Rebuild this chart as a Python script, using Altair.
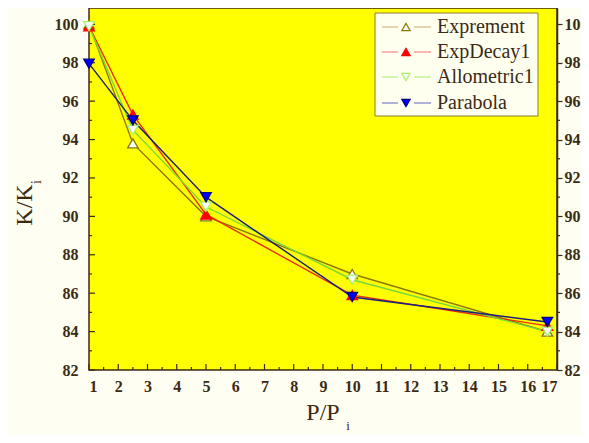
import altair as alt
import pandas as pd

# ---- data ----
x_vals = [1, 2.5, 5, 10, 16.67]
exprement = [100.0, 93.8, 90.0, 87.0, 84.0]
expdecay1 = [99.9, 95.3, 90.1, 85.9, 84.3]
allometric1 = [99.9, 94.5, 90.5, 86.7, 84.0]
parabola = [97.95, 95.0, 91.0, 85.8, 84.5]

series_names = ["Exprement", "ExpDecay1", "Allometric1", "Parabola"]
series_values = [exprement, expdecay1, allometric1, parabola]

y_major = [82, 84, 86, 88, 90, 92, 94, 96, 98, 100]
y_minor = [83, 85, 87, 89, 91, 93, 95, 97, 99]
x_major = list(range(1, 18))
x_minor = [1.5, 2.5, 3.5, 4.5, 5.5, 6.5, 7.5, 8.5, 9.5, 10.5, 11.5, 12.5, 13.5, 14.5, 15.5, 16.5]

# ---- styles ----
line_colors = ["#8c7800", "#e8300a", "#7ad83a", "#1c1c7a"]
marker_fill = ["#ffffff", "#ff0000", "#ffffff", "#0000ff"]
marker_stroke = ["#8c7800", "#ff0000", "#a8f070", "#000080"]
legend_line = ["#c8aa70", "#f07070", "#a8f070", "#6060c0"]
shapes = ["triangle-up", "triangle-up", "triangle-down", "triangle-down"]

W, H = 468, 362
FONT = "Liberation Serif"
TXT = "#3b2a14"

xscale = alt.Scale(domain=[1, 17], nice=False, zero=False)
yscale = alt.Scale(domain=[82, 100.85], nice=False, zero=False)

rows = []
for name, vals in zip(series_names, series_values):
    for xv, yv in zip(x_vals, vals):
        rows.append({"series": name, "x": xv, "y": yv})
df = pd.DataFrame(rows)

one = pd.DataFrame({"a": [0]})

layers = []

label_style = dict(labelFont=FONT, labelFontSize=16, labelFontWeight="bold", labelColor=TXT,
                   labelOverlap=False)

left_axis = alt.Chart(df).mark_point(opacity=0).encode(
    x=alt.X("x:Q", scale=xscale, axis=alt.Axis(
        orient="bottom", values=x_major, format="d", ticks=False, domain=False, grid=False,
        labelPadding=8, title=None, **label_style)),
    y=alt.Y("y:Q", scale=yscale, axis=alt.Axis(
        orient="left", values=y_major, format="d", ticks=False, domain=False, grid=False,
        labelPadding=11, title=None, **label_style)),
)
right_axis = alt.Chart(df).mark_point(opacity=0).encode(
    x=alt.X("x:Q", scale=xscale, axis=None),
    y=alt.Y("y:Q", scale=yscale, axis=alt.Axis(
        orient="right", values=y_major, format="d", ticks=True, tickSize=5,
        tickColor=TXT, tickWidth=1.2, domain=True, domainColor=TXT, domainWidth=1.5,
        grid=False, labelPadding=2, title=None, **label_style)),
)
layers += [left_axis, right_axis]

# inward / minor ticks
ymaj = pd.DataFrame({"v": y_major})
ymin = pd.DataFrame({"v": y_minor})
xmaj = pd.DataFrame({"v": x_major})
xmin = pd.DataFrame({"v": x_minor})
tick_style = dict(color=TXT, strokeWidth=1.2)
layers.append(alt.Chart(ymaj).mark_rule(**tick_style).encode(
    y=alt.Y("v:Q", scale=yscale, axis=None), x=alt.value(0), x2=alt.value(6)))
layers.append(alt.Chart(ymin).mark_rule(**tick_style).encode(
    y=alt.Y("v:Q", scale=yscale, axis=None), x=alt.value(0), x2=alt.value(3)))
layers.append(alt.Chart(ymin).mark_rule(**tick_style).encode(
    y=alt.Y("v:Q", scale=yscale, axis=None), x=alt.value(W), x2=alt.value(W + 3)))
layers.append(alt.Chart(xmaj).mark_rule(**tick_style).encode(
    x=alt.X("v:Q", scale=xscale, axis=None), y=alt.value(H), y2=alt.value(H - 6)))
layers.append(alt.Chart(xmin).mark_rule(**tick_style).encode(
    x=alt.X("v:Q", scale=xscale, axis=None), y=alt.value(H), y2=alt.value(H - 3)))

# series lines and markers
for i, name in enumerate(series_names):
    base = alt.Chart(df).transform_filter(alt.datum.series == name)
    layers.append(base.mark_line(color=line_colors[i], strokeWidth=1.4).encode(
        x=alt.X("x:Q", scale=xscale, axis=None),
        y=alt.Y("y:Q", scale=yscale, axis=None)))
for i, name in enumerate(series_names):
    base = alt.Chart(df).transform_filter(alt.datum.series == name)
    layers.append(base.mark_point(shape=shapes[i], filled=True, fill=marker_fill[i],
                                  stroke=marker_stroke[i], strokeWidth=1.3, size=110,
                                  opacity=1).encode(
        x=alt.X("x:Q", scale=xscale, axis=None),
        y=alt.Y("y:Q", scale=yscale, axis=None)))

# legend
layers.append(alt.Chart(one).mark_rect(fill="#fffff0", stroke="#8c7a30", strokeWidth=1).encode(
    x=alt.value(286), x2=alt.value(449), y=alt.value(5), y2=alt.value(108)))
row_y = [19, 44, 69, 95]
for i, name in enumerate(series_names):
    ry = row_y[i]
    layers.append(alt.Chart(one).mark_rule(color=legend_line[i], strokeWidth=1).encode(
        x=alt.value(293), x2=alt.value(309), y=alt.value(ry)))
    layers.append(alt.Chart(one).mark_rule(color=legend_line[i], strokeWidth=1).encode(
        x=alt.value(325), x2=alt.value(342), y=alt.value(ry)))
    layers.append(alt.Chart(one).mark_point(shape=shapes[i], filled=True, fill=marker_fill[i],
                                            stroke=marker_stroke[i], strokeWidth=1.2, size=70,
                                            opacity=1).encode(
        x=alt.value(317), y=alt.value(ry)))
    layers.append(alt.Chart(one).mark_text(text=name, font=FONT, fontSize=20, color=TXT,
                                           align="left", baseline="middle").encode(
        x=alt.value(348), y=alt.value(ry)))

# axis titles
layers.append(alt.Chart(one).mark_text(text="K/K", font=FONT, fontSize=24, color=TXT,
                                       angle=270, align="center", baseline="middle").encode(
    x=alt.value(-64), y=alt.value(197)))
layers.append(alt.Chart(one).mark_text(text="i", font=FONT, fontSize=14, color=TXT,
                                       angle=270, align="center", baseline="middle").encode(
    x=alt.value(-52), y=alt.value(174)))
layers.append(alt.Chart(one).mark_text(text="P/P", font=FONT, fontSize=24, color=TXT,
                                       align="center", baseline="middle").encode(
    x=alt.value(234), y=alt.value(405)))
layers.append(alt.Chart(one).mark_text(text="i", font=FONT, fontSize=13, color=TXT,
                                       align="center", baseline="middle").encode(
    x=alt.value(259), y=alt.value(418)))

chart = alt.layer(*layers).resolve_axis(x="independent", y="independent").properties(
    width=W, height=H,
    autosize=alt.AutoSizeParams(type="none"),
    padding={"left": 81, "top": 0, "right": 24, "bottom": 65},
    background="#fefef2",
).configure_view(stroke=TXT, strokeWidth=1.5, fill="#ffff00")

chart.save("out.html", embed_options={"renderer": "svg", "actions": False})
